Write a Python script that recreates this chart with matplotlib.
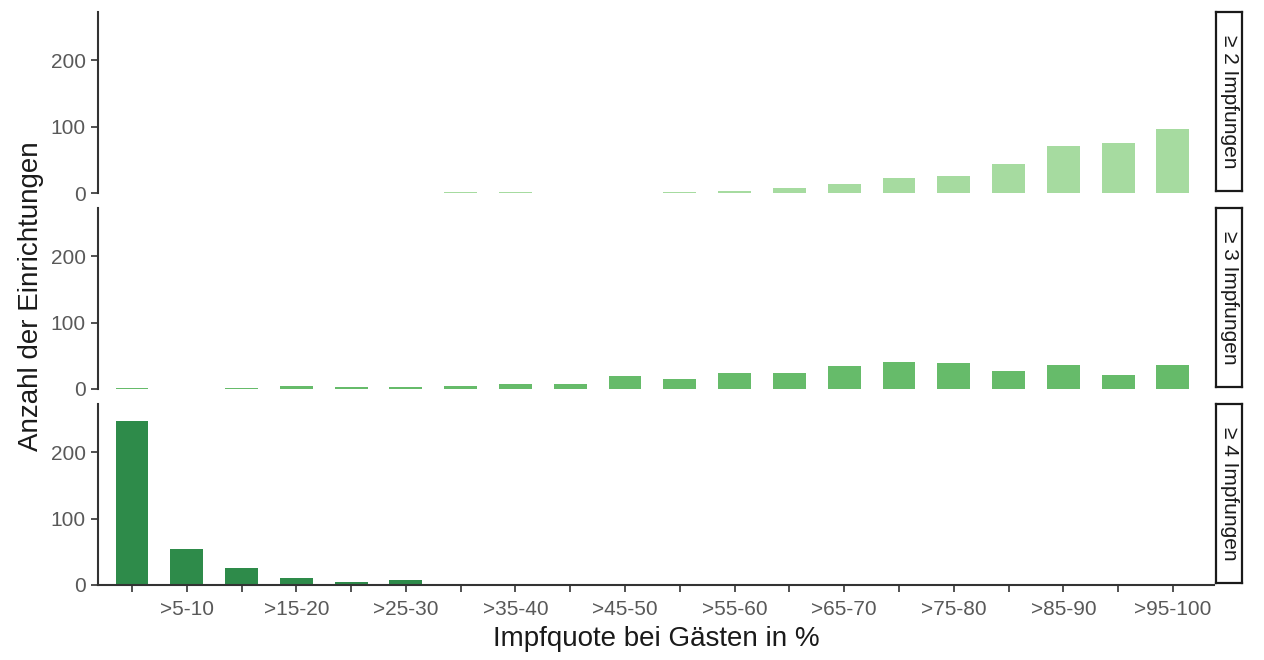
import matplotlib
matplotlib.use('Agg')
import matplotlib.pyplot as plt
import numpy as np

plt.rcParams['font.family'] = ['Liberation Sans', 'DejaVu Sans']

categories = ["0-5", ">5-10", ">10-15", ">15-20", ">20-25", ">25-30", ">30-35",
              ">35-40", ">40-45", ">45-50", ">50-55", ">55-60", ">60-65", ">65-70",
              ">70-75", ">75-80", ">80-85", ">85-90", ">90-95", ">95-100"]

panels = ["≥ 2 Impfungen", "≥ 3 Impfungen", "≥ 4 Impfungen"]
colors = ["#a6dba0", "#66bb6a", "#2e8b4a"]

imp2 = [0, 0, 0, 0, 0, 0, 1, 2, 0, 0, 1, 3, 7, 13, 22, 25, 43, 71, 75, 97]
imp3 = [2, 0, 1, 4, 3, 3, 5, 7, 8, 20, 15, 24, 24, 35, 41, 39, 27, 36, 21, 36]
imp4 = [248, 54, 26, 10, 5, 7, 2, 0, 0, 0, 0, 0, 0, 0, 0, 0, 0, 0, 0, 0]
values = [imp2, imp3, imp4]

W, H = 1264, 660
fig = plt.figure(figsize=(W / 100, H / 100), dpi=100)

left, right = 98, 1214
tops = [12, 208, 404]
ph = 181
x = np.arange(len(categories))
grey = "#595959"

for i, (name, col, vals) in enumerate(zip(panels, colors, values)):
  ax = fig.add_axes([left / W, 1 - (tops[i] + ph) / H, (right - left) / W, ph / H])
  ax.bar(x, vals, width=0.6, color=col)
  ax.set_xlim(-0.62, len(categories) - 0.25)
  ax.set_ylim(0, 273)
  ax.set_yticks([0, 100, 200])
  ax.tick_params(axis='y', labelsize=15, labelcolor=grey, color="#333333",
                 length=5, width=1.2, pad=4)
  for s in ['top', 'right']:
    ax.spines[s].set_visible(False)
  ax.spines['left'].set_color("#333333")
  ax.spines['left'].set_linewidth(1.5)
  if i < 2:
    ax.spines['bottom'].set_visible(False)
    ax.set_xticks([])
  else:
    ax.spines['bottom'].set_color("#333333")
    ax.spines['bottom'].set_linewidth(1.5)
    ax.set_xticks(x)
    ax.set_xticklabels([c if k % 2 == 1 else "" for k, c in enumerate(categories)])
    ax.tick_params(axis='x', labelsize=15, labelcolor=grey, color="#333333",
                   length=5, width=1.2, pad=6)
    ax.set_xlabel("Impfquote bei Gästen in %", fontsize=20, color="#1a1a1a", labelpad=5)

  # facet strip on the right
  sx = fig.add_axes([1216 / W, 1 - (tops[i] + ph - 2) / H, 26 / W, (ph - 2) / H])
  sx.set_xticks([])
  sx.set_yticks([])
  for s in sx.spines.values():
    s.set_linewidth(1.6)
    s.set_color("#1a1a1a")
  sx.text(0.5, 0.5, name, rotation=-90, ha='center', va='center',
          fontsize=15, color="#1a1a1a", transform=sx.transAxes)

fig.text(31 / W, 1 - 296 / H, "Anzahl der Einrichtungen", rotation=90,
         ha='center', va='center', fontsize=20, color="#1a1a1a")

fig.savefig("out.png", dpi=100, facecolor="white")
